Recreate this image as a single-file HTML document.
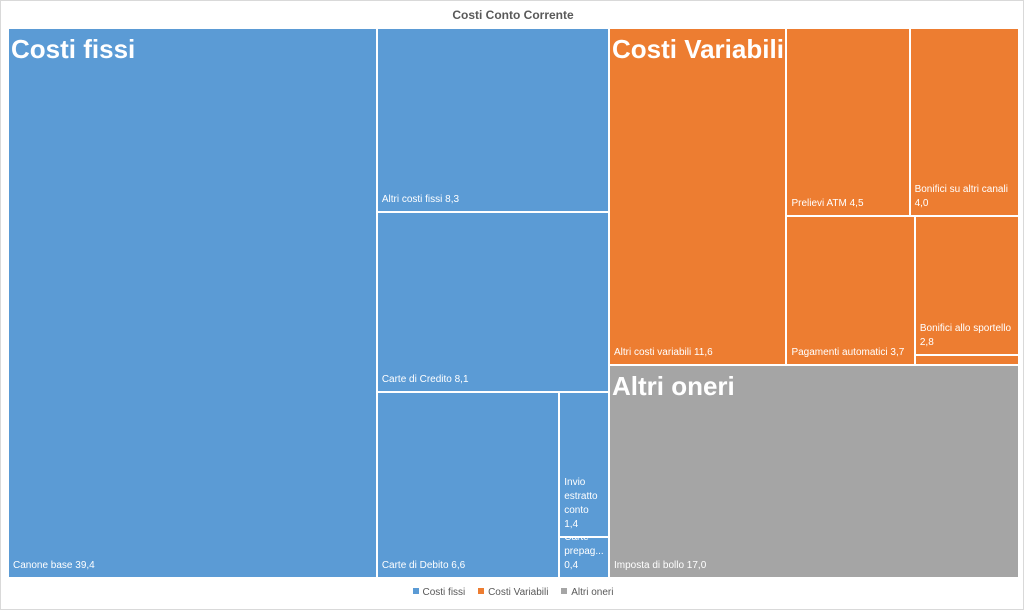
<!DOCTYPE html>
<html><head><meta charset="utf-8"><style>
body{margin:0;width:1024px;height:610px;background:#fff;font-family:"Liberation Sans",sans-serif;overflow:hidden}
#chart{position:absolute;left:0;top:0;width:1022px;height:608px;border:1px solid #d9d9d9}
.cell{position:absolute;box-sizing:border-box;border:1px solid #fff;overflow:hidden}
.lbl{position:absolute;left:4px;bottom:4px;right:3px;color:#fff;font-size:10px;line-height:14px}
.grp{position:absolute;color:#fff;font-weight:bold;font-size:26px;white-space:nowrap}
#title{position:absolute;top:7px;left:0;width:1024px;text-align:center;font-size:12px;font-weight:bold;color:#595959}
#legend{position:absolute;top:586px;left:0;width:1024px;text-align:center;font-size:10px;color:#595959}
#legend span{margin:0 5px}
#legend i{display:inline-block;width:6px;height:6px;margin-right:4px;vertical-align:1px}
</style></head><body>
<div id="chart">
<div id="title">Costi Conto Corrente</div>
<div id="plot"></div>
<div id="legend">
<span><i style="background:#5B9BD5"></i>Costi fissi</span>
<span><i style="background:#ED7D31"></i>Costi Variabili</span>
<span><i style="background:#A5A5A5"></i>Altri oneri</span>
</div>
</div>
<script>
const groups=["Costi fissi","Costi Variabili","Altri oneri"];
const colors=["#5B9BD5","#ED7D31","#A5A5A5"];
const fissiLabels=["Canone base","Altri costi fissi","Carte di Credito","Carte di Debito","Invio estratto conto","Carte prepag..."];
const fissiValues=[39.4,8.3,8.1,6.6,1.4,0.4];
const varLabels=["Altri costi variabili","Prelievi ATM","Bonifici su altri canali","Pagamenti automatici","Bonifici allo sportello","Altri"];
const varValues=[11.6,4.5,4.0,3.7,2.8,0.2];
const altriLabels=["Imposta di bollo"];
const altriValues=[17.0];

const sum=a=>a.reduce((s,v)=>s+v,0);
function fmt(v){return v.toFixed(1).replace('.',',');}
function node(kind,children){return {kind,children,value:sum(children.map(c=>c.value))};}
function leaf(label,value,g){return {label,value,g,leaf:true};}
const F=fissiValues.map((v,i)=>leaf(fissiLabels[i],v,0));
const V=varValues.map((v,i)=>leaf(varLabels[i],v,1));
const A=altriValues.map((v,i)=>leaf(altriLabels[i],v,2));
const fissi=node('h',[F[0],node('v',[F[1],F[2],node('h',[F[3],node('v',[F[4],F[5]])])])]);fissi.group=0;
const vari=node('h',[V[0],node('v',[node('h',[V[1],V[2]]),node('h',[V[3],node('v',[V[4],V[5]])])])]);vari.group=1;
const altri=node('h',[A[0]]);altri.group=2;
const root=node('h',[fissi,node('v',[vari,altri])]);
const plot=document.getElementById('plot');
const X0=7,Y0=27,W=1011,H=550;
function lay(n,x,y,w,h){
  if(n.group!==undefined){
    const t=document.createElement('div');t.className='grp';t.textContent=groups[n.group];
    
    
    t.style.left=(x+3)+'px';t.style.top=(y+6)+'px';n.gl=t;
  }
  if(n.leaf){
    const d=document.createElement('div');d.className='cell';
    
    
    d.style.cssText+=`left:${x}px;top:${y}px;width:${w}px;height:${h}px;background:${colors[n.g]}`;
    if(h>12){const l=document.createElement('div');l.className='lbl';l.textContent=n.label+'  '+fmt(n.value);d.appendChild(l);}
    plot.appendChild(d);return;
  }
  let off=0;
  for(const c of n.children){
    const f=c.value/n.value;
    if(n.kind==='h'){lay(c,x+off,y,w*f,h);off+=w*f;}else{lay(c,x,y+off,w,h*f);off+=h*f;}
  }
  if(n.gl)plot.appendChild(n.gl);
}
lay(root,X0,Y0,W,H);
</script>
</body></html>
